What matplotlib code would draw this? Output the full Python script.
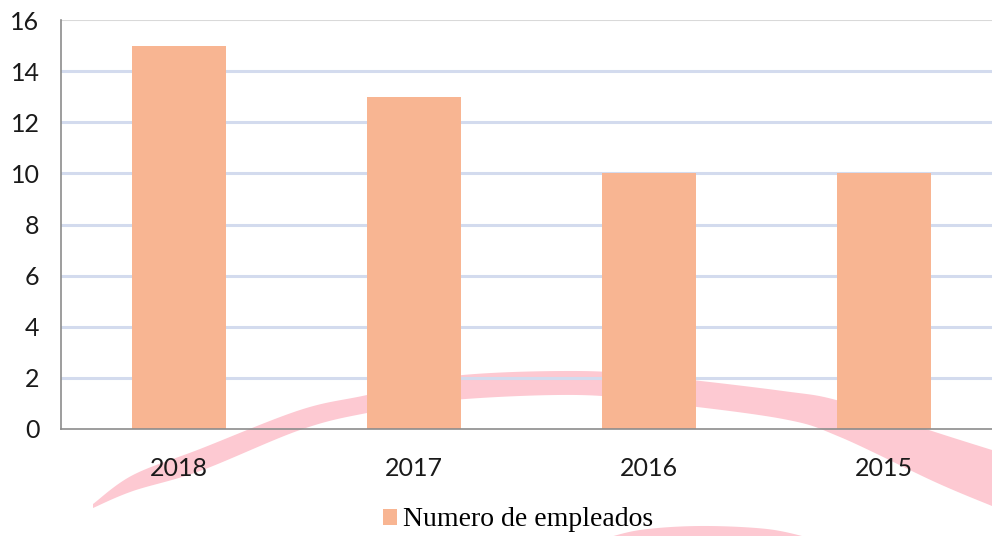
import matplotlib
matplotlib.use("Agg")
import matplotlib.pyplot as plt
from matplotlib.patches import Polygon
import numpy as np

categories = ["2018", "2017", "2016", "2015"]
values = [15, 13, 10, 10]
series_name = "Numero de empleados"
yticks = [0, 2, 4, 6, 8, 10, 12, 14, 16]

W, H = 992, 536
fig = plt.figure(figsize=(W / 100, H / 100), dpi=100)
fig.patch.set_facecolor("white")


def catmull(points, n=24):
    p = np.asarray(points, float)
    p = np.vstack([p[0], p, p[-1]])
    out = []
    for i in range(1, len(p) - 2):
        p0, p1, p2, p3 = p[i - 1], p[i], p[i + 1], p[i + 2]
        for t in np.linspace(0, 1, n, endpoint=False):
            t2, t3 = t * t, t * t * t
            out.append(0.5 * ((2 * p1) + (-p0 + p2) * t +
                              (2 * p0 - 5 * p1 + 4 * p2 - p3) * t2 +
                              (-p0 + 3 * p1 - 3 * p2 + p3) * t3))
    out.append(p[-2])
    return np.array(out)


# decorative pink watermark stroke (pixel coords: x, center y, half width)
wm_stroke = [(93, 506, 2), (133, 483, 8), (200, 460, 11), (300, 420, 10),
             (367, 404, 9), (453, 388, 12), (577, 383, 12), (663, 390, 13),
             (783, 405, 14), (840, 419, 18), (935, 457, 25), (992, 478, 28)]
c = catmull(wm_stroke)
up = np.column_stack([c[:, 0], c[:, 1] - c[:, 2]])
lo = np.column_stack([c[:, 0], c[:, 1] + c[:, 2]])[::-1]
poly = np.vstack([up, lo])
poly_fig = np.column_stack([poly[:, 0] / W, 1 - poly[:, 1] / H])
fig.patches.append(Polygon(poly_fig, closed=True, transform=fig.transFigure,
                           facecolor="#fdc9d2", edgecolor="none", zorder=-1))
arc2 = catmull([(600, 540), (640, 530), (700, 526), (767, 529), (810, 538)])
fig.patches.append(Polygon(np.column_stack([arc2[:, 0] / W, 1 - arc2[:, 1] / H]),
                           closed=True, transform=fig.transFigure,
                           facecolor="#fdc9d2", edgecolor="none", zorder=-1))

left, right, top, bottom = 61, 1001, 20, 429
ax = fig.add_axes([left / W, 1 - bottom / H, (right - left) / W, (bottom - top) / H])
ax.set_facecolor("none")
ax.set_zorder(1)

x = np.arange(len(categories))
bars = ax.bar(x, values, width=0.4, color="#f8b592", zorder=3, label=series_name)

ax.set_xlim(-0.5, len(categories) - 0.5)
ax.set_ylim(0, 16)
ax.set_yticks(yticks)
ax.set_xticks(x)
ax.set_xticklabels(categories)

for yv in yticks[1:-1]:
    ax.axhline(yv, color="#d3dbee", lw=2.2, zorder=1)
ax.axhline(16, color="#d9d9d9", lw=1.5, zorder=1)

for s in ["top", "right"]:
    ax.spines[s].set_visible(False)
ax.spines["left"].set_color("#8c8c8c")
ax.spines["bottom"].set_color("#8c8c8c")
ax.spines["left"].set_linewidth(1.2)
ax.spines["bottom"].set_linewidth(1.2)
ax.spines["bottom"].set_zorder(4)

ax.tick_params(axis="both", length=0, labelsize=18, colors="#1a1a1a")
ax.tick_params(axis="y", pad=15.5)
ax.tick_params(axis="x", pad=20)
for lab in ax.get_xticklabels() + ax.get_yticklabels():
    lab.set_fontfamily("Lato")

leg = fig.legend(handles=[bars], labels=[series_name], loc="center",
                 bbox_to_anchor=(518 / W, 1 - 520 / H), frameon=False,
                 prop={"family": "Liberation Serif", "size": 20},
                 handlelength=0.5, handleheight=0.5, handletextpad=0.2)

fig.savefig("out.png", dpi=100)
